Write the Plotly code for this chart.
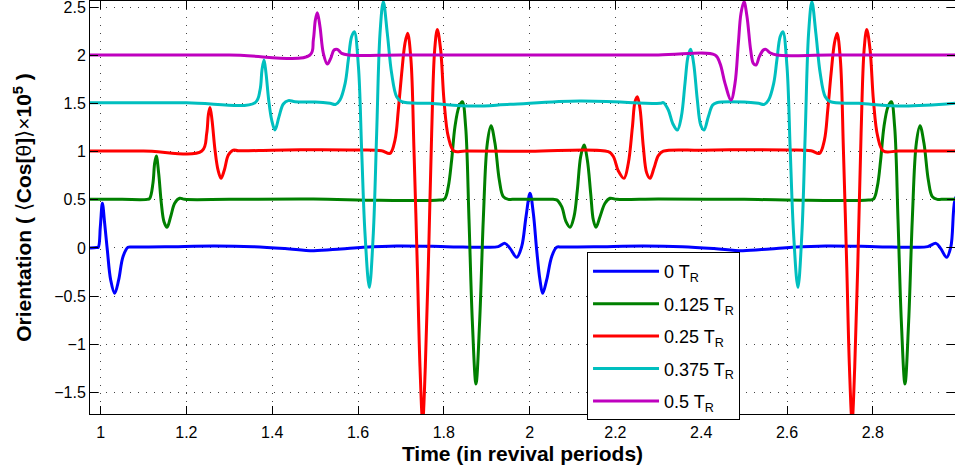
import plotly.graph_objects as go

# ---------------- data ----------------
series_names = ["0 T<sub>R</sub>", "0.125 T<sub>R</sub>", "0.25 T<sub>R</sub>",
                "0.375 T<sub>R</sub>", "0.5 T<sub>R</sub>"]
series_colors = ["#0000FF", "#008000", "#FF0000", "#00BFBF", "#BF00BF"]

x_ticks = [1, 1.2, 1.4, 1.6, 1.8, 2, 2.2, 2.4, 2.6, 2.8]
x_tick_labels = ["1", "1.2", "1.4", "1.6", "1.8", "2", "2.2", "2.4", "2.6", "2.8"]
y_ticks = [-1.5, -1, -0.5, 0, 0.5, 1, 1.5, 2, 2.5]
y_tick_labels = ["\u22121.5", "\u22121", "\u22120.5", "0", "0.5", "1", "1.5", "2", "2.5"]

blue_x = [0.9753, 0.99, 0.9945, 0.9994, 1.0041, 1.0095, 1.0157, 1.0235, 1.0328, 1.0421,
          1.0522, 1.0639, 1.075, 1.15, 1.263, 1.356, 1.43, 1.496, 1.56, 1.612, 1.69,
          1.807, 1.90, 1.927, 1.9427, 1.9543, 1.9699, 1.9815, 1.9916, 2.001, 2.0087,
          2.0165, 2.0242, 2.0305, 2.0398, 2.0515, 2.0631, 2.075, 2.15, 2.263, 2.356,
          2.43, 2.496, 2.56, 2.612, 2.69, 2.807, 2.90, 2.928, 2.9473, 2.958, 2.9721,
          2.982, 2.9915, 3.0]
blue_y = [0.0, 0.005, 0.007, 0.222, 0.464, 0.256, -0.021, -0.332, -0.471, -0.332,
          -0.09, 0.007, 0.01, 0.012, 0.021, 0.014, -0.005, -0.028, -0.01, 0.007, 0.021,
          0.014, 0.007, 0.014, 0.048, -0.004, -0.097, 0.014, 0.325, 0.568, 0.36,
          -0.021, -0.332, -0.471, -0.332, -0.09, 0.007, 0.01, 0.012, 0.021, 0.014,
          -0.005, -0.028, -0.01, 0.007, 0.021, 0.014, 0.007, 0.014, 0.048, -0.004, -0.097,
          0.014, 0.5, 0.57]

green_x = [0.9753, 1.05, 1.108, 1.1144, 1.122, 1.126, 1.1299, 1.1354, 1.1416, 1.1478,
           1.1548, 1.1633, 1.1727, 1.1843, 1.196, 1.30, 1.496, 1.651, 1.79, 1.802,
           1.8105, 1.8183, 1.826, 1.8354, 1.8432, 1.8509, 1.8587, 1.8665, 1.875, 1.8836,
           1.8921, 1.9014, 1.91, 1.9193, 1.9294, 1.9387, 1.9504, 1.96, 2.055, 2.0631,
           2.0748, 2.0849, 2.0942, 2.1035, 2.1113, 2.119, 2.1268, 2.1346, 2.1424, 2.1486,
           2.1548, 2.1641, 2.1758, 2.1874, 2.203, 2.30, 2.50, 2.65, 2.79, 2.802,
           2.8105, 2.8183, 2.826, 2.8354, 2.8432, 2.8509, 2.8587, 2.8665, 2.875, 2.8836,
           2.8921, 2.9014, 2.91, 2.9193, 2.9294, 2.9387, 2.9504, 2.96, 2.9916]
green_y = [0.505, 0.505, 0.505, 0.515, 0.671, 0.879, 0.955, 0.775, 0.464, 0.273,
           0.215, 0.325, 0.464, 0.516, 0.505, 0.505, 0.508, 0.495, 0.498, 0.51,
           0.637, 0.914, 1.26, 1.467, 1.519, 1.26, 0.3, -0.76, -1.413, -0.76,
           0.3, 1.087, 1.27, 1.087, 0.706, 0.533, 0.505, 0.505, 0.505, 0.5,
           0.429, 0.273, 0.215, 0.325, 0.602, 0.948, 1.07, 0.914, 0.568, 0.291,
           0.215, 0.325, 0.464, 0.516, 0.505, 0.508, 0.505, 0.495, 0.498, 0.51,
           0.637, 0.914, 1.26, 1.467, 1.519, 1.26, 0.3, -0.76, -1.413, -0.76,
           0.3, 1.087, 1.27, 1.087, 0.706, 0.533, 0.505, 0.505, 0.505]

red_x = [0.9753, 1.10, 1.236, 1.2473, 1.2511, 1.255, 1.2597, 1.2667, 1.2737, 1.2807,
         1.2885, 1.2978, 1.3094, 1.3211, 1.40, 1.50, 1.60, 1.655, 1.6746, 1.6862,
         1.694, 1.7018, 1.7095, 1.7157, 1.7235, 1.7305, 1.7383, 1.7445, 1.7507, 1.7569,
         1.7639, 1.7717, 1.7787, 1.7849, 1.7927, 1.8004, 1.8105, 1.8237, 1.85, 2.00,
         2.1835, 2.1952, 2.2068, 2.22, 2.2301, 2.2395, 2.2457, 2.2511, 2.2573, 2.2651,
         2.2729, 2.2806, 2.29, 2.3001, 2.3117, 2.40, 2.50, 2.60, 2.656, 2.6756,
         2.6872, 2.695, 2.7028, 2.7105, 2.7167, 2.7245, 2.7315, 2.7393, 2.7455, 2.7517,
         2.7579, 2.7649, 2.7727, 2.7797, 2.7859, 2.7937, 2.8014, 2.8115, 2.8247, 2.86,
         2.9916]
red_y = [1.007, 1.007, 1.007, 1.19, 1.381, 1.46, 1.329, 1.017, 0.81, 0.723,
         0.81, 0.965, 1.017, 1.01, 1.015, 1.02, 1.017, 1.01, 0.983, 1.121,
         1.433, 1.813, 2.125, 2.229, 1.952, 1.017, -0.194, -1.233, -1.80, -1.233,
         -0.194, 1.19, 2.056, 2.27, 2.056, 1.537, 1.156, 1.007, 1.007, 1.005,
         1.0, 0.95, 0.80, 0.723, 0.88, 1.25, 1.52, 1.571, 1.45, 1.05,
         0.78, 0.723, 0.83, 0.96, 1.005, 1.015, 1.02, 1.017, 1.01, 0.983,
         1.121, 1.433, 1.813, 2.125, 2.229, 1.952, 1.017, -0.194, -1.233, -1.80,
         -1.233, -0.194, 1.19, 2.056, 2.27, 2.056, 1.537, 1.156, 1.007, 1.007,
         1.007]

cyan_x = [0.9753, 1.20, 1.36, 1.3716, 1.3762, 1.3809, 1.3856, 1.3918, 1.3988, 1.4065,
          1.4159, 1.426, 1.4376, 1.4532, 1.50, 1.5347, 1.548, 1.558, 1.570, 1.5774,
          1.585, 1.5914, 1.601, 1.6085, 1.6163, 1.6264, 1.6357, 1.6435, 1.6513, 1.659,
          1.6683, 1.6784, 1.6901, 1.7018, 1.768, 1.869, 1.954, 2.117, 2.304, 2.3117,
          2.3234, 2.3335, 2.3444, 2.3537, 2.3622, 2.3692, 2.3754, 2.3824, 2.391, 2.3988,
          2.4065, 2.4166, 2.4267, 2.436, 2.50, 2.5337, 2.547, 2.557, 2.569, 2.5764,
          2.584, 2.5904, 2.600, 2.6075, 2.6153, 2.6254, 2.6347, 2.6425, 2.6503, 2.658,
          2.6673, 2.6774, 2.6891, 2.7008, 2.768, 2.871, 2.9916]
cyan_y = [1.509, 1.509, 1.509, 1.64, 1.848, 1.952, 1.813, 1.537, 1.329, 1.225,
          1.364, 1.495, 1.53, 1.519, 1.515, 1.502, 1.492, 1.537, 1.71, 1.952,
          2.194, 2.246, 1.883, 1.017, 0.152, -0.409, 0.152, 1.19, 2.229, 2.558,
          2.229, 1.814, 1.571, 1.519, 1.502, 1.474, 1.492, 1.526, 1.502, 1.509,
          1.433, 1.294, 1.225, 1.364, 1.71, 1.987, 2.063, 1.917, 1.537, 1.277,
          1.225, 1.364, 1.485, 1.509, 1.515, 1.502, 1.492, 1.537, 1.71, 1.952,
          2.194, 2.246, 1.883, 1.017, 0.152, -0.409, 0.152, 1.19, 2.229, 2.558,
          2.229, 1.814, 1.571, 1.519, 1.502, 1.474, 1.502]

magenta_x = [0.9753, 1.30, 1.4881, 1.4959, 1.5006, 1.5052, 1.5114, 1.5192, 1.5285, 1.5363,
             1.5441, 1.5519, 1.562, 1.5775, 1.70, 2.00, 2.30, 2.4322, 2.4438, 2.4555,
             2.4695, 2.4788, 2.4866, 2.4928, 2.4998, 2.5068, 2.5153, 2.5215, 2.5277, 2.5355,
             2.5448, 2.551, 2.5603, 2.5759, 2.70, 2.9916]
magenta_y = [2.004, 2.004, 2.004, 2.16, 2.367, 2.443, 2.298, 2.021, 1.91, 1.969,
             2.056, 2.063, 2.021, 2.004, 2.004, 2.004, 2.004, 2.004, 1.917, 1.71,
             1.537, 1.71, 2.125, 2.437, 2.558, 2.402, 2.056, 1.917, 1.9, 1.987,
             2.056, 2.063, 2.028, 2.004, 2.004, 2.004]

all_x = [blue_x, green_x, red_x, cyan_x, magenta_x]
all_y = [blue_y, green_y, red_y, cyan_y, magenta_y]

# ---------------- figure ----------------
fig = go.Figure()
for i, (xs, ys) in enumerate(zip(all_x, all_y)):
    fig.add_trace(go.Scatter(
        x=xs, y=ys, mode="lines", name=series_names[i],
        legendgroup=f"g{i}",
        line=dict(color=series_colors[i], width=3, shape="spline", smoothing=1.0),
    ))

font_family = "Liberation Sans, Arial, sans-serif"
axis_common = dict(
    showline=True, linecolor="black", linewidth=1, mirror="ticks",
    ticks="inside", ticklen=8, tickcolor="black", tickwidth=1,
    showgrid=True, gridcolor="#444444", gridwidth=1, griddash="1px,7px",
    zeroline=False, automargin=False, ticklabeloverflow="allow",
    tickfont=dict(family=font_family, size=16, color="black"),
)

fig.update_xaxes(
    range=[0.9753, 2.9916], tickvals=x_ticks, ticktext=x_tick_labels,
    ticklabelstandoff=4,
    title=dict(text="<b>Time (in revival periods)</b>", standoff=6,
               font=dict(family=font_family, size=21, color="black")),
    **axis_common,
)
fig.update_yaxes(
    range=[-1.724, 2.565], tickvals=y_ticks, ticktext=y_tick_labels,
    title=dict(text="<b>Orientation ( </b>\u27e8<b>Cos[</b>\u03b8<b>]</b>\u27e9\u00d7<b>10<sup>5</sup> )</b>",
               standoff=16, font=dict(family=font_family, size=21, color="black")),
    **axis_common,
)

fig.update_layout(
    width=955, height=472, autosize=False,
    margin=dict(l=90, r=0, t=1, b=58, pad=0),
    paper_bgcolor="white", plot_bgcolor="white",
    showlegend=True,
    legend=dict(
        x=0.5746, y=0.392, xanchor="left", yanchor="top",
        bgcolor="white", bordercolor="black", borderwidth=1,
        font=dict(family=font_family, size=18, color="black"),
        tracegroupgap=6, itemwidth=66,
    ),
)

fig.write_html("out.html")
